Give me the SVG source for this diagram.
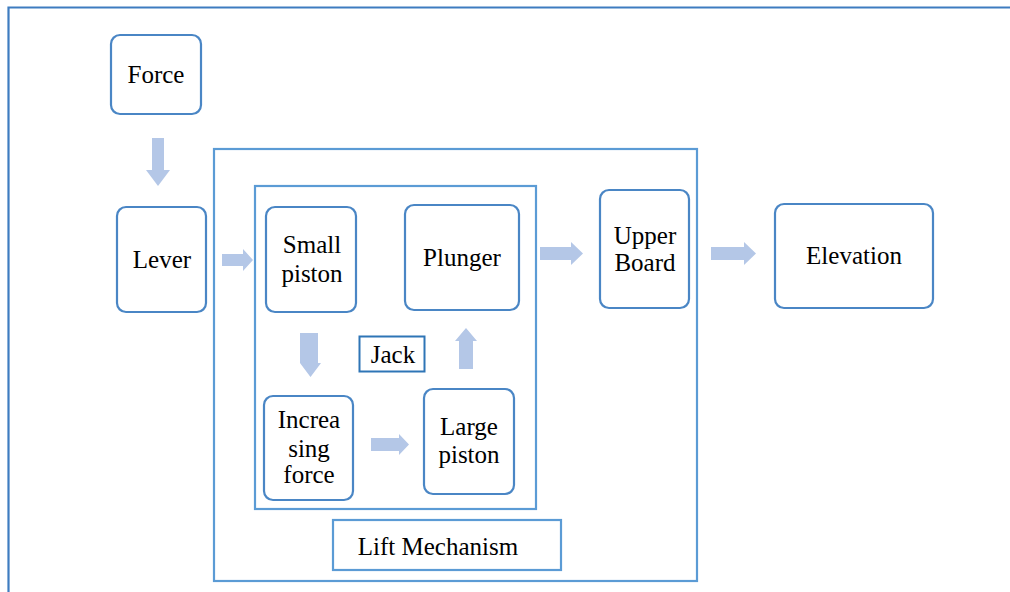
<svg xmlns="http://www.w3.org/2000/svg" width="1010" height="592" viewBox="0 0 1010 592">
<style>
.node{fill:#fff;stroke:#4A86C5;stroke-width:2.2}
.frame{fill:none;stroke:#5B9BD5;stroke-width:2.2}
.arr{fill:#B4C7E7}
.t{font-family:"Times New Roman",Tinos,"Liberation Serif","Nimbus Roman","FreeSerif","Noto Serif","DejaVu Serif",serif;font-size:25px;fill:#000;text-anchor:middle}
</style>
<rect width="1010" height="592" fill="#fff"/>
<path d="M8.5,600 V7.5 H1020" fill="none" stroke="#3E7CC0" stroke-width="2.2"/>
<g id="lift">
<rect class="frame" x="214" y="149" width="483" height="432"/>
<rect class="frame" x="333" y="520" width="228" height="50"/>
<text class="t" x="438" y="555">Lift Mechanism</text>
</g>
<g id="jack">
<rect class="frame" x="255" y="186" width="281" height="323"/>
<rect x="359.5" y="336.5" width="65" height="35" fill="#fff" stroke="#2E75B6" stroke-width="2"/>
<text class="t" x="393" y="363">Jack</text>
</g>
<g id="force"><rect class="node" x="111" y="35" width="90" height="79" rx="9"/><text class="t" x="156" y="83">Force</text></g>
<g id="lever"><rect class="node" x="117" y="207" width="89" height="105" rx="9"/><text class="t" x="162" y="268">Lever</text></g>
<g id="small-piston"><rect class="node" x="266" y="207" width="90" height="105" rx="9"/><text class="t" x="312" y="253">Small</text><text class="t" x="312" y="282">piston</text></g>
<g id="plunger"><rect class="node" x="405" y="205" width="114" height="105" rx="9"/><text class="t" x="462" y="266">Plunger</text></g>
<g id="increasing-force"><rect class="node" x="264" y="396" width="89" height="104" rx="9"/><text class="t" x="309" y="428">Increa</text><text class="t" x="309" y="457">sing</text><text class="t" x="309" y="483">force</text></g>
<g id="large-piston"><rect class="node" x="424" y="389" width="90" height="105" rx="9"/><text class="t" x="469" y="435">Large</text><text class="t" x="469" y="463">piston</text></g>
<g id="upper-board"><rect class="node" x="600" y="190" width="89" height="118" rx="9"/><text class="t" x="645" y="244">Upper</text><text class="t" x="645" y="271">Board</text></g>
<g id="elevation"><rect class="node" x="775" y="204" width="158" height="104" rx="9"/><text class="t" x="854" y="264">Elevation</text></g>
<g id="connectors">
<polygon class="arr" points="152,138 164,138 164,170 170,170 158,186 146,170 152,170"/>
<polygon class="arr" points="222,254 243,254 243,249 253,260 243,271 243,266 222,266"/>
<polygon class="arr" points="300,333 318,333 318,363 321,363 310.5,377 300,363 300,363"/>
<polygon class="arr" points="459,369 473,369 473,341 477,341 466,328 455,341 459,341"/>
<polygon class="arr" points="371,438 399,438 399,434 409,444.5 399,455 399,451 371,451"/>
<polygon class="arr" points="540,247 571,247 571,242 583,253.5 571,265 571,260 540,260"/>
<polygon class="arr" points="711,247 744,247 744,242 756,253.5 744,265 744,260 711,260"/>
</g>
</svg>
